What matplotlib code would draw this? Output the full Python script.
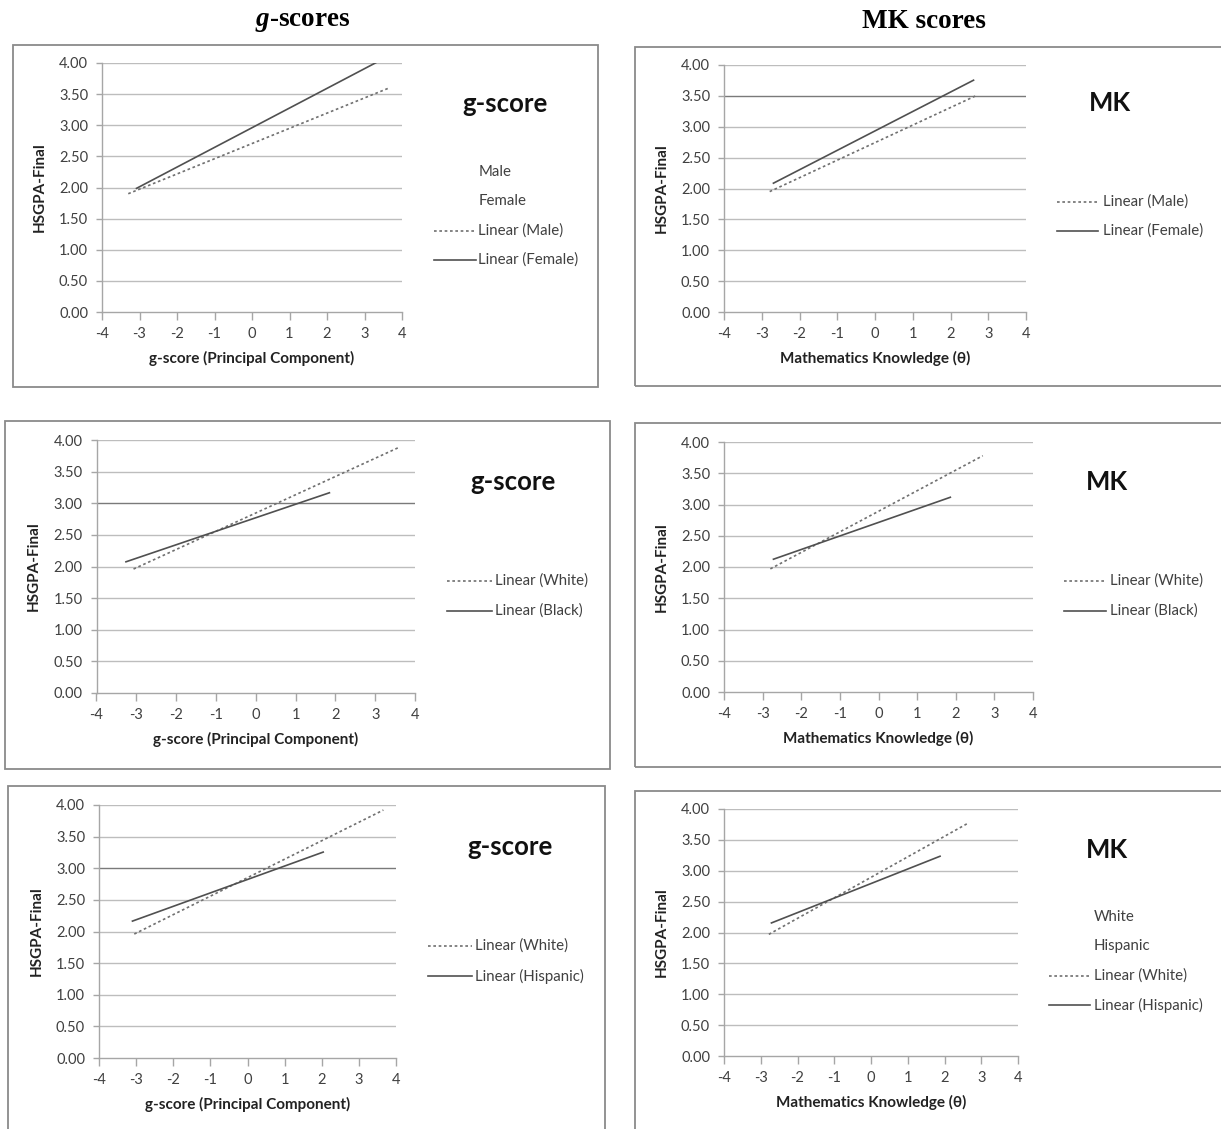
import matplotlib
matplotlib.use("Agg")
import matplotlib.pyplot as plt
from matplotlib.patches import Rectangle

W, H = 1221, 1129
plt.rcParams['font.family'] = ['Lato', 'DejaVu Sans']
plt.rcParams['mathtext.fontset'] = 'custom'
plt.rcParams['mathtext.it'] = 'Liberation Serif:italic:bold'
plt.rcParams['mathtext.rm'] = 'Liberation Serif:bold'

# ---- data: fitted linear trend lines (x endpoints, y endpoints) ----
x_ticks = [-4, -3, -2, -1, 0, 1, 2, 3, 4]
y_ticks = [0.0, 0.5, 1.0, 1.5, 2.0, 2.5, 3.0, 3.5, 4.0]

g_male_x = [-3.30, 3.66]
g_male_y = [1.90, 3.60]
g_female_x = [-3.10, 3.32]
g_female_y = [1.98, 4.01]

mk_male_x = [-2.79, 2.70]
mk_male_y = [1.95, 3.51]
mk_female_x = [-2.71, 2.63]
mk_female_y = [2.08, 3.76]

g_white_b_x = [-3.07, 3.62]
g_white_b_y = [1.96, 3.89]
g_black_x = [-3.28, 1.87]
g_black_y = [2.07, 3.17]

mk_white_b_x = [-2.80, 2.70]
mk_white_b_y = [1.97, 3.78]
mk_black_x = [-2.74, 1.88]
mk_black_y = [2.12, 3.12]

g_white_h_x = [-3.05, 3.66]
g_white_h_y = [1.96, 3.92]
g_hisp_x = [-3.12, 2.06]
g_hisp_y = [2.16, 3.26]

mk_white_h_x = [-2.78, 2.64]
mk_white_h_y = [1.97, 3.77]
mk_hisp_x = [-2.73, 1.90]
mk_hisp_y = [2.15, 3.24]

fig = plt.figure(figsize=(W / 100, H / 100), dpi=100)

def fx(x):
    return x / W

def fy(y):
    return 1 - y / H

def add_box(x0, y0, x1, y1):
    r = Rectangle((fx(x0), fy(y1)), fx(x1 - x0), (y1 - y0) / H,
                  transform=fig.transFigure, fill=False,
                  edgecolor='#8a8a8a', lw=1.3, clip_on=False)
    fig.patches.append(r)

GRID = '#bdbdbd'
TXT = '#404040'
SOLID = '#505050'
DOT = '#707070'

def make_axes(l, r, t, b, xlabel, dark_y=None):
    ax = fig.add_axes([fx(l), fy(b), fx(r - l), (b - t) / H])
    ax.set_xlim(-4, 4)
    ax.set_ylim(0, 4)
    ax.set_xticks(x_ticks)
    ax.set_yticks(y_ticks)
    ax.set_yticklabels([f"{v:.2f}" for v in y_ticks])
    ax.set_xticklabels([str(v) for v in x_ticks])
    for s in ['top', 'right']:
        ax.spines[s].set_visible(False)
    for s in ['left', 'bottom']:
        ax.spines[s].set_color('#a6a6a6')
        ax.spines[s].set_linewidth(1.0)
    ax.tick_params(axis='x', direction='out', length=6, width=1.0,
                   color='#a6a6a6', labelsize=10.5, labelcolor=TXT, pad=5)
    ax.tick_params(axis='y', direction='out', length=4, width=1.0,
                   color='#a6a6a6', labelsize=10.5, labelcolor=TXT, pad=6)
    for v in y_ticks[1:]:
        c = GRID
        if dark_y is not None and abs(v - dark_y) < 1e-9:
            c = '#7a7a7a'
        ax.hlines(v, -4, 4, color=c, lw=1.0, zorder=0)
    ax.set_facecolor('none')
    ax.set_xlabel(xlabel, fontsize=11, fontweight='bold', color='#222222', labelpad=7)
    ax.set_ylabel('HSGPA-Final', fontsize=11, fontweight='bold', color='#222222', labelpad=9)
    return ax

def legend_line(x0, x1, y, style):
    fig.add_artist(plt.Line2D([fx(x0), fx(x1)], [fy(y), fy(y)],
                              transform=fig.transFigure,
                              color=SOLID if style == 'solid' else DOT,
                              lw=1.2,
                              linestyle='-' if style == 'solid' else (0, (1.6, 1.6))))

def legend_text(x, y, s):
    fig.text(fx(x), fy(y), s, fontsize=10.8, color=TXT, ha='left', va='center')

def big_label(x, y, s):
    fig.text(fx(x), fy(y), s, fontsize=18.5, fontweight='bold', color='#111111',
             ha='center', va='center')

def draw(ax, xs, ys, style):
    if style == 'solid':
        ax.plot(xs, ys, color=SOLID, lw=1.2, solid_capstyle='butt')
    else:
        ax.plot(xs, ys, color=DOT, lw=1.2, linestyle=(0, (1.6, 1.6)))

# titles
fig.text(fx(303), fy(21), r'$\mathit{g}$' + '-scores', fontsize=19.5,
         fontweight='bold', family='Liberation Serif', ha='center', va='center')
fig.text(fx(924), fy(21), 'MK scores', fontsize=19.5, fontweight='bold',
         family='Liberation Serif', ha='center', va='center')

# boxes
add_box(13, 45, 598, 387)
add_box(635, 47, 1230, 386)
add_box(5, 421, 610, 769)
add_box(635, 423, 1230, 767)
add_box(8, 786, 605, 1140)
add_box(635, 791, 1230, 1140)

# panel 1
ax1 = make_axes(102, 402, 63, 312, 'g-score (Principal Component)')
draw(ax1, g_male_x, g_male_y, 'dot')
draw(ax1, g_female_x, g_female_y, 'solid')
big_label(505, 104, 'g-score')
legend_text(479, 172, 'Male')
legend_text(479, 201, 'Female')
legend_line(434, 476, 231, 'dot')
legend_text(478, 231, 'Linear (Male)')
legend_line(434, 476, 260, 'solid')
legend_text(478, 260, 'Linear (Female)')

# panel 2
ax2 = make_axes(724, 1026, 65, 312, 'Mathematics Knowledge (θ)', dark_y=3.5)
draw(ax2, mk_male_x, mk_male_y, 'dot')
draw(ax2, mk_female_x, mk_female_y, 'solid')
big_label(1110, 103, 'MK')
legend_line(1057, 1098, 202, 'dot')
legend_text(1103, 202, 'Linear (Male)')
legend_line(1057, 1098, 231, 'solid')
legend_text(1103, 231, 'Linear (Female)')

# panel 3
ax3 = make_axes(96.5, 415, 440, 693, 'g-score (Principal Component)', dark_y=3.0)
draw(ax3, g_white_b_x, g_white_b_y, 'dot')
draw(ax3, g_black_x, g_black_y, 'solid')
big_label(513, 482, 'g-score')
legend_line(447, 492, 581, 'dot')
legend_text(495, 581, 'Linear (White)')
legend_line(447, 492, 611, 'solid')
legend_text(495, 611, 'Linear (Black)')

# panel 4
ax4 = make_axes(724, 1033, 442, 692, 'Mathematics Knowledge (θ)')
draw(ax4, mk_white_b_x, mk_white_b_y, 'dot')
draw(ax4, mk_black_x, mk_black_y, 'solid')
big_label(1107, 482, 'MK')
legend_line(1064, 1106, 581, 'dot')
legend_text(1110, 581, 'Linear (White)')
legend_line(1064, 1106, 611, 'solid')
legend_text(1110, 611, 'Linear (Black)')

# panel 5
ax5 = make_axes(99, 396, 805, 1058, 'g-score (Principal Component)', dark_y=3.0)
draw(ax5, g_white_h_x, g_white_h_y, 'dot')
draw(ax5, g_hisp_x, g_hisp_y, 'solid')
big_label(510, 847, 'g-score')
legend_line(428, 472, 946, 'dot')
legend_text(475, 946, 'Linear (White)')
legend_line(428, 472, 976, 'solid')
legend_text(475, 976, 'Linear (Hispanic)')

# panel 6
ax6 = make_axes(724, 1018, 809, 1056, 'Mathematics Knowledge (θ)')
draw(ax6, mk_white_h_x, mk_white_h_y, 'dot')
draw(ax6, mk_hisp_x, mk_hisp_y, 'solid')
big_label(1107, 850, 'MK')
legend_text(1094, 917, 'White')
legend_text(1094, 946, 'Hispanic')
legend_line(1049, 1090, 976, 'dot')
legend_text(1094, 976, 'Linear (White)')
legend_line(1049, 1090, 1005, 'solid')
legend_text(1094, 1005, 'Linear (Hispanic)')

fig.savefig('out.png', dpi=100)
